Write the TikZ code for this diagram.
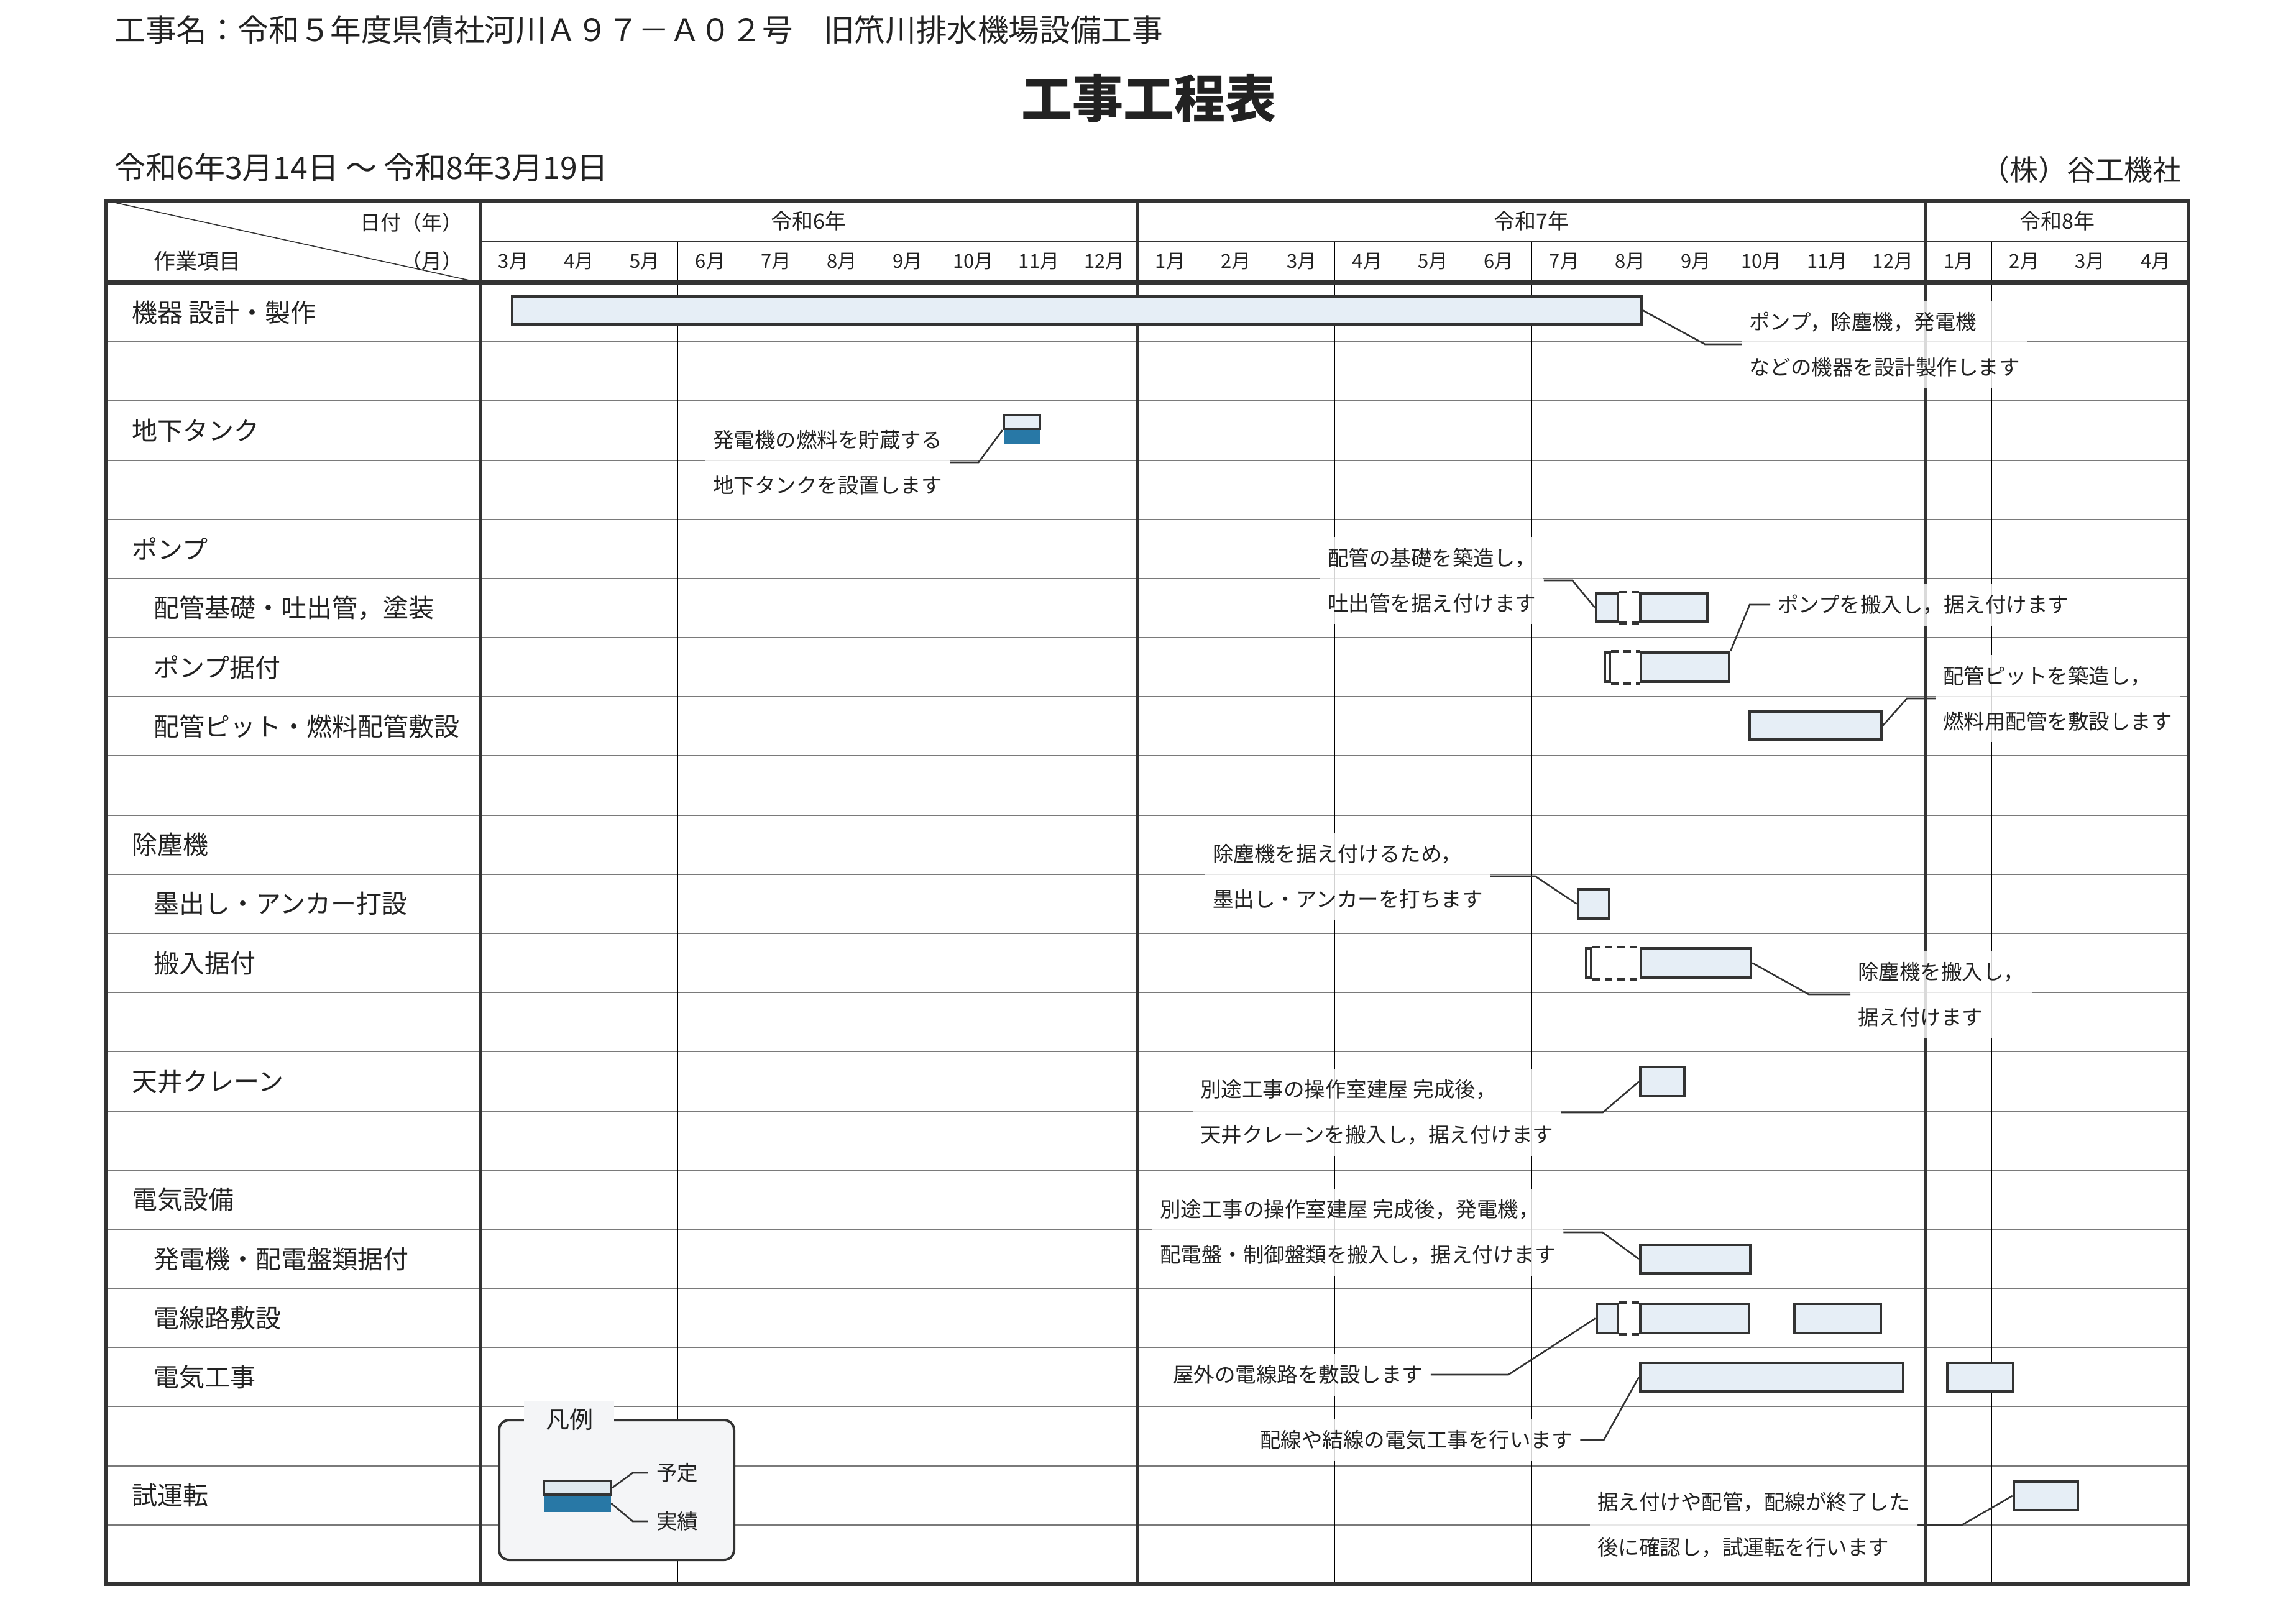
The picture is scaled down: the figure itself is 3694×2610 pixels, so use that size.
\documentclass[tikz,border=0pt]{standalone}
\usepackage{fontspec}
\setmainfont{Noto Sans CJK JP}
\usetikzlibrary{fit}
\definecolor{ink}{HTML}{333333}
\definecolor{txt}{HTML}{222222}
\definecolor{planfill}{HTML}{E6EEF6}
\definecolor{actblue}{HTML}{2878A6}
\definecolor{rowgray}{HTML}{7A7A7A}
\definecolor{legfill}{HTML}{F4F5F7}
\definecolor{legplan}{HTML}{DFE9EF}
\begin{document}
\begin{tikzpicture}[x=0.5pt,y=-0.5pt,
  planbar/.style={draw=ink, line width=2.25pt, fill=planfill, inner sep=0pt},
  blankbar/.style={planbar, fill=white},
  actbar/.style={fill=actblue, draw=none, inner sep=0pt},
  dashedge/.style={draw=ink, line width=2.25pt, dash pattern=on 6pt off 4pt},
  leader/.style={draw=ink, line width=1.3pt},
  callout/.style={anchor=west, align=left, text=txt, fill=white, fill opacity=0.82, text opacity=1, inner xsep=6pt, inner ysep=9pt, font=\fontsize{16.75pt}{36.5pt}\selectfont},
  rowlab/.style={anchor=west, inner sep=0pt, text=txt, font=\fontsize{20.5pt}{24pt}\selectfont},
  monthlab/.style={text=txt, inner sep=0pt, font=\fontsize{15.5pt}{18pt}\selectfont},
  yearlab/.style={text=txt, inner sep=0pt, font=\fontsize{17pt}{20pt}\selectfont},
  headlab/.style={text=txt, inner sep=0pt, font=\fontsize{16.5pt}{20pt}\selectfont},
  legtext/.style={anchor=west, inner xsep=7pt, inner ysep=0pt, text=txt, font=\fontsize{16.75pt}{20pt}\selectfont},
  monthline/.style={draw=black, line width=0.6pt},
  rowline/.style={draw=rowgray, line width=1pt},
  thickline/.style={draw=ink, line width=2.6pt}
]
\fill[white] (0,0) rectangle (3694,2610);
\useasboundingbox (0,0) rectangle (3694,2610);

% top texts
\node[anchor=west, inner sep=0pt, text=txt, font=\fontsize{24.8pt}{28pt}\selectfont] (proj) at (184,48) {工事名：令和５年度県債社河川Ａ９７－Ａ０２号　旧笊川排水機場設備工事};
\node[inner sep=0pt, text=txt, font=\fontsize{41pt}{46pt}\selectfont\bfseries] (title) at (1848,158) {工事工程表};
\node[anchor=west, inner sep=0pt, text=txt, font=\fontsize{25pt}{28pt}\selectfont] (dates) at (184,269) {令和6年3月14日 〜 令和8年3月19日};
\node[anchor=east, inner sep=0pt, text=txt, font=\fontsize{23pt}{28pt}\selectfont] (firm) at (3510,273) {（株）谷工機社};

% grid
\foreach \k in {1,...,21} \draw[rowline] (171,{455+95.18*\k}) -- (3521,{455+95.18*\k});
\foreach \k in {1,...,9,11,12,...,21,23,24,25} \draw[monthline] ({773+105.69*\k},388) -- ({773+105.69*\k},2549);
\draw[draw=ink, line width=1pt] (773,388) -- (3521,388);
\draw[thickline] (773,323) -- (773,2549);
\draw[thickline] (1829.9,323) -- (1829.9,2549);
\draw[thickline] (3098.2,323) -- (3098.2,2549);
\draw[draw=ink, line width=3.5pt] (171,455) -- (3521,455);
\draw[draw=ink, line width=3.2pt] (171,323) rectangle (3521,2549);
\draw[draw=ink, line width=0.8pt] (171,323) -- (773,455);

% header labels
\node[headlab, anchor=east] (hdate) at (745,358) {日付（年）};
\node[headlab, anchor=east] (hmon) at (745,420) {（月）};
\node[headlab, anchor=west, font=\fontsize{17.5pt}{20pt}\selectfont] (hitem) at (247,420) {作業項目};
\node[yearlab] (y6) at (1301,356) {令和6年};
\node[yearlab] (y7) at (2464,356) {令和7年};
\node[yearlab] (y8) at (3310,356) {令和8年};
\foreach \m [count=\i from 0] in {3,4,5,6,7,8,9,10,11,12,1,2,3,4,5,6,7,8,9,10,11,12,1,2,3,4}
  \node[monthlab] (m\i) at ({826+105.69*\i},421) {\m 月};

% row labels
\node[rowlab] (r0) at (212,502.6) {機器 設計・製作};
\node[rowlab] (r2) at (212,693.0) {地下タンク};
\node[rowlab] (r4) at (212,883.3) {ポンプ};
\node[rowlab] (r5) at (247,978.5) {配管基礎・吐出管，塗装};
\node[rowlab] (r6) at (247,1073.7) {ポンプ据付};
\node[rowlab] (r7) at (247,1168.9) {配管ピット・燃料配管敷設};
\node[rowlab] (r9) at (212,1359.2) {除塵機};
\node[rowlab] (r10) at (247,1454.4) {墨出し・アンカー打設};
\node[rowlab] (r11) at (247,1549.6) {搬入据付};
\node[rowlab] (r13) at (212,1740.0) {天井クレーン};
\node[rowlab] (r15) at (212,1930.3) {電気設備};
\node[rowlab] (r16) at (247,2025.5) {発電機・配電盤類据付};
\node[rowlab] (r17) at (247,2120.7) {電線路敷設};
\node[rowlab] (r18) at (247,2215.9) {電気工事};
\node[rowlab] (r20) at (212,2406.3) {試運転};

% bars
\node[planbar, fit={(824,477)(2641,522)}] (b0) {};
\node[actbar, fit={(1615,690)(1673,714)}] (tanka) {};
\node[planbar, fit={(1615,668)(1673,690)}] (tankp) {};
\node[planbar, fit={(2568,955)(2603,1000)}] (p5a) {};
\node[planbar, fit={(2639,955)(2747,1000)}] (p5b) {};
\draw[dashedge] (p5a.north east) -- (p5b.north west);
\draw[dashedge] (p5a.south east) -- (p5b.south west);
\node[blankbar, fit={(2582,1050)(2590,1097)}] (p6a) {};
\node[planbar, fit={(2640,1050)(2782,1097)}] (p6b) {};
\draw[dashedge] (p6a.north east) -- (p6b.north west);
\draw[dashedge] (p6a.south east) -- (p6b.south west);
\node[planbar, fit={(2815,1145)(3027,1190)}] (p7) {};
\node[planbar, fit={(2539,1431)(2589,1478)}] (p10) {};
\node[blankbar, fit={(2552,1526)(2560,1573)}] (p11a) {};
\node[planbar, fit={(2640,1526)(2817,1573)}] (p11b) {};
\draw[dashedge] (p11a.north east) -- (p11b.north west);
\draw[dashedge] (p11a.south east) -- (p11b.south west);
\node[planbar, fit={(2639,1717)(2710,1764)}] (p13) {};
\node[planbar, fit={(2639,2003)(2816,2049)}] (p16) {};
\node[planbar, fit={(2569,2098)(2603,2145)}] (p17a) {};
\node[planbar, fit={(2639,2098)(2814,2145)}] (p17b) {};
\draw[dashedge] (p17a.north east) -- (p17b.north west);
\draw[dashedge] (p17a.south east) -- (p17b.south west);
\node[planbar, fit={(2887,2098)(3026,2145)}] (p17c) {};
\node[planbar, fit={(2639,2193)(3062,2239)}] (p18a) {};
\node[planbar, fit={(3133,2193)(3239,2239)}] (p18b) {};
\node[planbar, fit={(3240,2384)(3343,2430)}] (p20) {};

% callouts
\node[callout] (c1) at (2802,554) {ポンプ，除塵機，発電機\\などの機器を設計製作します};
\node[callout] (c2) at (1135,744) {発電機の燃料を貯蔵する\\地下タンクを設置します};
\node[callout] (c3) at (2124,934) {配管の基礎を築造し，\\吐出管を据え付けます};
\node[callout] (c4) at (2848,973) {ポンプを搬入し，据え付けます};
\node[callout] (c5) at (3114,1124) {配管ピットを築造し，\\燃料用配管を敷設します};
\node[callout] (c6) at (1939,1410) {除塵機を据え付けるため，\\墨出し・アンカーを打ちます};
\node[callout] (c7) at (2977,1600) {除塵機を搬入し，\\据え付けます};
\node[callout] (c8) at (1919,1790) {別途工事の操作室建屋 完成後，\\天井クレーンを搬入し，据え付けます};
\node[callout] (c9) at (1854,1983) {別途工事の操作室建屋 完成後，発電機，\\配電盤・制御盤類を搬入し，据え付けます};
\node[callout] (c10) at (1875,2212) {屋外の電線路を敷設します};
\node[callout] (c11) at (2015,2317) {配線や結線の電気工事を行います};
\node[callout] (c12) at (2558,2454) {据え付けや配管，配線が終了した\\後に確認し，試運転を行います};

% leaders
\draw[leader] (b0.east) -- ([xshift=-29.5pt]c1.west) -- (c1.west);
\draw[leader] (tankp.south west) -- ([xshift=23pt]c2.east) -- (c2.east);
\draw[leader] (p5a.west) -- ([xshift=23pt]c3.east) -- (c3.east);
\draw[leader] (p6b.north east) -- ([xshift=-16.5pt]c4.west) -- (c4.west);
\draw[leader] (p7.east) -- ([xshift=-23pt]c5.west) -- (c5.west);
\draw[leader] (p10.west) -- ([xshift=36pt]c6.east) -- (c6.east);
\draw[leader] (p11b.east) -- ([xshift=-33.5pt]c7.west) -- (c7.west);
\draw[leader] (p13.west) -- ([xshift=33.5pt]c8.east) -- (c8.east);
\draw[leader] (p16.west) -- ([xshift=31.5pt]c9.east) -- (c9.east);
\draw[leader] (p17a.west) -- ([xshift=62.5pt]c10.east) -- (c10.east);
\draw[leader] (p18a.west) -- ([xshift=19pt]c11.east) -- (c11.east);
\draw[leader] (p20.west) -- ([xshift=35.5pt]c12.east) -- (c12.east);

% legend
\node[draw=ink, line width=2pt, fill=legfill, rounded corners=8pt, inner sep=0pt, fit={(803,2285)(1181,2510)}] (lg) {};
\node[fill=legfill, inner sep=0pt, fit={(843,2255)(988,2292)}] (lgpatch) {};
\node[inner sep=0pt, text=txt, font=\fontsize{19pt}{22pt}\selectfont] (lgtitle) at (916,2284) {凡例};
\node[actbar, fit={(875,2405)(983,2433)}] (lga) {};
\node[draw=ink, line width=2pt, fill=legplan, inner sep=0pt, fit={(875,2383)(983,2405)}] (lgp) {};
\node[legtext] (yotei) at (1042,2370) {予定};
\node[legtext] (jisseki) at (1042,2448) {実績};
\draw[leader] (lgp.east) -- ([xshift=-12pt]yotei.west) -- (yotei.west);
\draw[leader] (lga.east) -- ([xshift=-12pt]jisseki.west) -- (jisseki.west);
\end{tikzpicture}
\end{document}
